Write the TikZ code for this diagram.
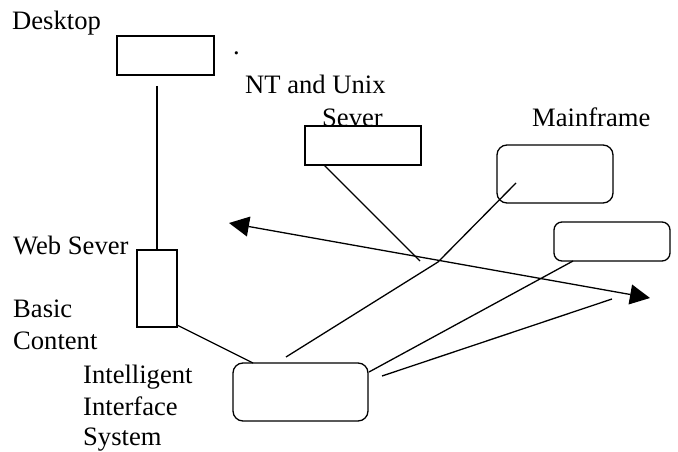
\documentclass[tikz,border=0pt]{standalone}
\usepackage{fontspec}
\setmainfont{Liberation Serif}
\usetikzlibrary{arrows.meta}
\begin{document}
\begin{tikzpicture}[x=1pt,y=-1pt,
  lbl/.style={anchor=base west,inner sep=0pt,font=\fontsize{26.6}{30}\selectfont},
  sqbox/.style={draw,line width=1.3pt,fill=white,inner sep=0pt},
  rbox/.style={draw,line width=1.3pt,fill=white,inner sep=0pt,rounded corners=10pt},
  conn/.style={line width=1.3pt},
  big/.style={line width=1.3pt,{Triangle[length=20pt,width=20pt]}-{Triangle[length=20pt,width=20pt]}}]
\useasboundingbox (0,0) rectangle (678,452);
% labels
\node[lbl] (tdesk) at (12,30) {Desktop};
\node[lbl] (tdot) at (233,55) {.};
\node[lbl] (tnt) at (245,93) {NT and Unix};
\node[lbl] (tsever) at (322,127) {Sever};
\node[lbl] (tmain) at (532,127) {Mainframe};
\node[lbl] (tweb) at (13,254) {Web Sever};
\node[lbl] (tbasic) at (13,317) {Basic};
\node[lbl] (tcontent) at (13,349) {Content};
\node[lbl] (tintel) at (83,383) {Intelligent};
\node[lbl] (tinter) at (83,415) {Interface};
\node[lbl] (tsys) at (83,445) {System};
% boxes
\node[sqbox,minimum width=97pt,minimum height=39pt] (desk) at (165.5,55.5) {};
\node[sqbox,minimum width=116pt,minimum height=39pt] (nt) at (363,145.5) {};
\node[rbox,minimum width=116pt,minimum height=58pt] (main) at (555,174) {};
\node[rbox,rounded corners=8pt,minimum width=116pt,minimum height=39pt] (rbx) at (612,241.5) {};
\node[sqbox,minimum width=40pt,minimum height=77pt] (web) at (157,288.5) {};
\node[rbox,minimum width=135pt,minimum height=58pt] (iis) at (300.5,392) {};
% free ends
\coordinate (d1) at (157,86);
\coordinate (w1) at (177,325);
\coordinate (i1) at (253,363);
\coordinate (n1) at (324,165);
\coordinate (n2) at (420,261);
\coordinate (m1) at (516,183);
\coordinate (m2) at (438,262);
\coordinate (m3) at (286,357);
\coordinate (r1) at (573,261);
\coordinate (r2) at (369,372);
\coordinate (e1) at (612,299);
\coordinate (e2) at (382,376);
\coordinate (a1) at (229,223);
\coordinate (a2) at (650,298);
% connectors
\draw[conn] (d1) -- (web.north);
\draw[conn] (w1) -- (i1);
\draw[conn] (n1) -- (n2);
\draw[conn] (m1) -- (m2) -- (m3);
\draw[conn] (r1) -- (r2);
\draw[conn] (e1) -- (e2);
\draw[big] (a1) -- (a2);
\end{tikzpicture}
\end{document}
